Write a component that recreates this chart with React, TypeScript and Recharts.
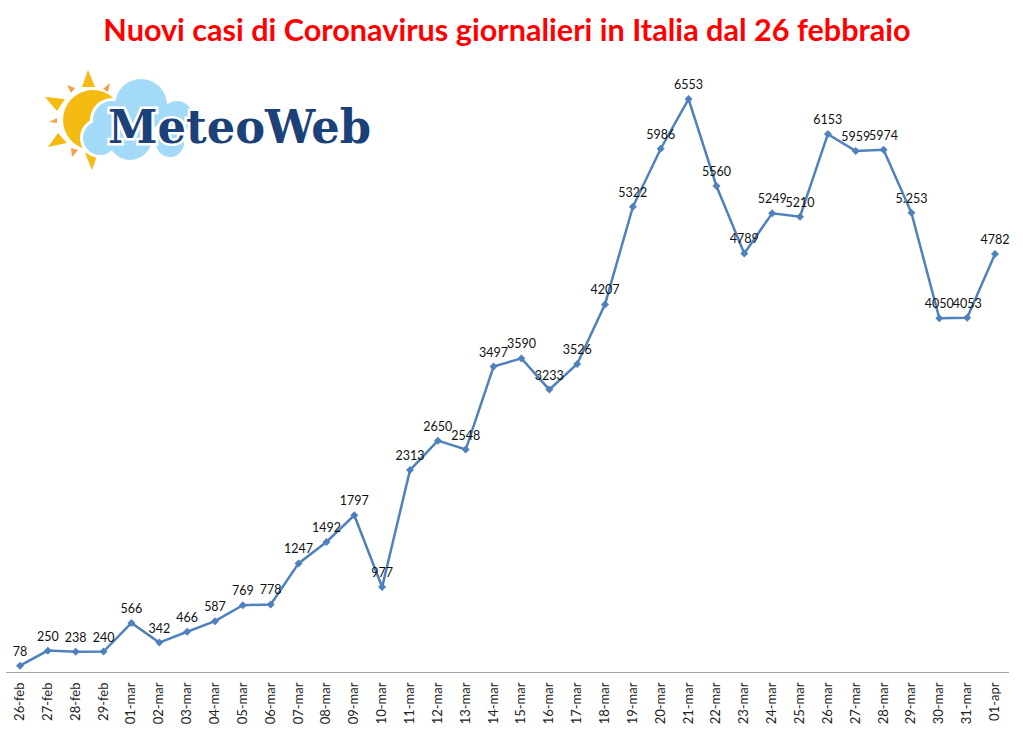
import { LabelList, Line, LineChart, XAxis, YAxis } from 'recharts';

const days = [
  '26-feb', '27-feb', '28-feb', '29-feb', '01-mar', '02-mar', '03-mar', '04-mar', '05-mar',
  '06-mar', '07-mar', '08-mar', '09-mar', '10-mar', '11-mar', '12-mar', '13-mar', '14-mar',
  '15-mar', '16-mar', '17-mar', '18-mar', '19-mar', '20-mar', '21-mar', '22-mar', '23-mar',
  '24-mar', '25-mar', '26-mar', '27-mar', '28-mar', '29-mar', '30-mar', '31-mar', '01-apr',
];
const newCases = [
  78, 250, 238, 240, 566, 342, 466, 587, 769, 778, 1247, 1492, 1797, 977, 2313, 2650, 2548, 3497,
  3590, 3233, 3526, 4207, 5322, 5986, 6553, 5560, 4789, 5249, 5210, 6153, 5959, 5974, 5253, 4050,
  4053, 4782,
];

const chartData = days.map((day, i) => ({ day, cases: newCases[i] }));

const FONT = 'Lato, sans-serif';
const LINE_COLOR = '#4f81bd';

const DayTick = ({ x, y, payload }: any) => (
  <text
    transform={`translate(${x + 4},${y + 2}) rotate(-90)`}
    textAnchor="end"
    fontFamily={FONT}
    fontSize={13}
    fill="#222"
  >
    {payload.value}
  </text>
);

const Diamond = ({ cx, cy, index }: any) => (
  <path
    key={index}
    d={`M${cx} ${cy - 4}L${cx + 4} ${cy}L${cx} ${cy + 4}L${cx - 4} ${cy}Z`}
    fill={LINE_COLOR}
  />
);

const Logo = () => (
  <svg width={1023} height={735} style={{ position: 'absolute', left: 0, top: 0 }}>
    <g fill="#f4bc12">
      <path d="M88 70L82 87L95 87Z" />
      <path d="M45 97L65 99L57 111Z" />
      <path d="M48 147L58 133L67 143Z" />
      <path d="M92 170L85 153L98 153Z" />
    </g>
    <g fill="#f5a04a">
      <path d="M67 85L75 88L71 93Z" />
      <path d="M110 83L103 89L108 92Z" />
      <path d="M49 122L57 118L57 123Z" />
      <path d="M72 157L78 150L71 148Z" />
    </g>
    <circle cx={93} cy={120} r={30} fill="#f4bc12" />
    <g fill="#fff">
      <circle cx={141} cy={105} r={29} />
      <circle cx={177} cy={117} r={19} />
      <circle cx={112} cy={120} r={22} />
      <circle cx={100} cy={138} r={20} />
      <circle cx={130} cy={138} r={25} />
      <circle cx={170} cy={143} r={17} />
    </g>
    <g fill="#a3daf7">
      <circle cx={141} cy={105} r={26} />
      <circle cx={177} cy={117} r={16} />
      <circle cx={112} cy={120} r={19} />
      <circle cx={100} cy={138} r={17} />
      <circle cx={130} cy={138} r={22} />
      <circle cx={170} cy={143} r={14} />
    </g>
    <text
      x={108}
      y={143}
      fontFamily="'DejaVu Serif', serif"
      fontWeight="bold"
      fontStretch="condensed"
      fontSize={46}
      textLength={263}
      lengthAdjust="spacingAndGlyphs"
      fill="#1a4178"
      stroke="#fff"
      strokeWidth={5}
      paintOrder="stroke"
    >
      MeteoWeb
    </text>
  </svg>
);

export default function App() {
  return (
    <div style={{ position: 'absolute', left: 0, top: 0, width: 1023, height: 735, background: '#fff' }}>
      <div
        style={{
          position: 'absolute',
          left: 0,
          width: 1014,
          top: 11,
          textAlign: 'center',
          color: '#ff0000',
          fontFamily: FONT,
          fontWeight: 700,
          fontSize: 30.6,
          lineHeight: '38px',
          whiteSpace: 'nowrap',
        }}
      >
        Nuovi casi di Coronavirus giornalieri in Italia dal 26 febbraio
      </div>
      <LineChart
        width={1023}
        height={735}
        data={chartData}
        margin={{ top: 60, right: 14, bottom: 0, left: 6 }}
      >
        <XAxis
          dataKey="day"
          interval={0}
          height={62.5}
          padding={{ left: 14, right: 14 }}
          tickLine={false}
          axisLine={{ stroke: '#a6a6a6', strokeWidth: 1 }}
          tick={<DayTick />}
        />
        <YAxis hide domain={[0, 7000]} />
        <Line
          type="linear"
          dataKey="cases"
          stroke={LINE_COLOR}
          strokeWidth={2.5}
          dot={<Diamond />}
          activeDot={false}
          isAnimationActive={false}
        >
          <LabelList
            dataKey="cases"
            position="top"
            offset={10}
            formatter={(v: number) => (v === 5253 ? '5.253' : String(v))}
            style={{ fontFamily: FONT, fontSize: 12.5, fill: '#111' }}
          />
        </Line>
      </LineChart>
      <Logo />
    </div>
  );
}
